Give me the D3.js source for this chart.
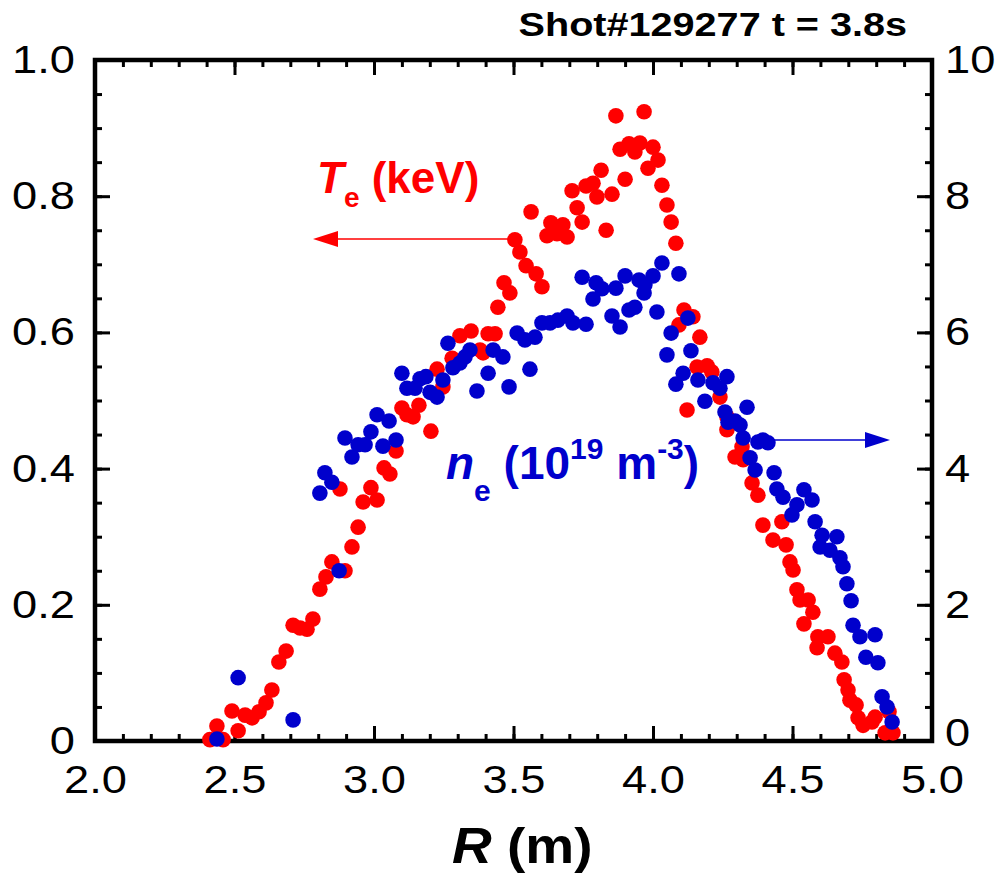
<!DOCTYPE html>
<html><head><meta charset="utf-8">
<script src="https://cdn.jsdelivr.net/npm/d3@7"></script>
<style>body{margin:0;background:#fff} svg{display:block}</style>
</head><body>
<svg id="c" width="1003" height="881"></svg>
<script>
// ---- data ----
const teR = [2.412,2.437,2.459,2.491,2.513,2.538,2.563,2.588,2.613,2.634,2.659,2.685,2.710,2.735,2.760,2.781,2.806,2.828,2.849,2.878,2.896,2.921,2.943,2.961,2.989,3.011,3.036,3.057,3.079,3.100,3.118,3.140,3.161,3.204,3.226,3.247,3.280,3.308,3.348,3.380,3.391,3.409,3.434,3.444,3.466,3.487,3.505,3.523,3.545,3.563,3.581,3.602,3.620,3.634,3.656,3.677,3.692,3.710,3.728,3.746,3.760,3.785,3.799,3.814,3.832,3.853,3.867,3.882,3.900,3.914,3.935,3.953,3.968,3.982,4.000,4.018,4.032,4.050,4.065,4.082,4.093,4.111,4.122,4.143,4.158,4.168,4.194,4.211,4.240,4.265,4.265,4.294,4.319,4.323,4.355,4.376,4.394,4.430,4.462,4.477,4.491,4.502,4.516,4.527,4.541,4.556,4.573,4.588,4.591,4.627,4.652,4.677,4.685,4.699,4.706,4.728,4.735,4.753,4.785,4.796,4.832,4.846,4.860];
const teV = [0.002,0.022,0.002,0.044,0.015,0.038,0.034,0.043,0.056,0.075,0.116,0.132,0.170,0.166,0.164,0.179,0.223,0.241,0.263,0.370,0.250,0.285,0.314,0.351,0.372,0.354,0.401,0.392,0.426,0.489,0.479,0.476,0.493,0.455,0.546,0.520,0.562,0.595,0.602,0.574,0.570,0.598,0.598,0.637,0.673,0.658,0.736,0.718,0.698,0.777,0.686,0.667,0.742,0.761,0.745,0.758,0.740,0.808,0.783,0.762,0.815,0.819,0.799,0.838,0.750,0.803,0.918,0.869,0.825,0.877,0.865,0.878,0.924,0.841,0.872,0.853,0.816,0.787,0.762,0.731,0.611,0.633,0.486,0.623,0.549,0.593,0.551,0.542,0.505,0.476,0.457,0.417,0.432,0.413,0.379,0.361,0.317,0.295,0.322,0.288,0.263,0.251,0.222,0.207,0.172,0.207,0.189,0.137,0.153,0.153,0.129,0.116,0.090,0.075,0.060,0.053,0.034,0.023,0.028,0.035,0.012,0.043,0.012];
const neR = [2.437,2.513,2.710,2.806,2.824,2.849,2.875,2.896,2.921,2.943,2.968,2.989,3.011,3.032,3.054,3.079,3.100,3.118,3.147,3.165,3.186,3.201,3.226,3.247,3.265,3.283,3.308,3.326,3.344,3.369,3.409,3.427,3.462,3.484,3.513,3.541,3.559,3.577,3.602,3.631,3.659,3.692,3.713,3.746,3.760,3.785,3.796,3.817,3.853,3.867,3.882,3.900,3.914,3.935,3.950,3.968,3.971,4.000,4.014,4.032,4.050,4.065,4.082,4.093,4.108,4.125,4.136,4.161,4.186,4.215,4.240,4.258,4.265,4.269,4.294,4.312,4.323,4.337,4.348,4.366,4.376,4.394,4.412,4.434,4.444,4.466,4.498,4.516,4.541,4.570,4.581,4.599,4.606,4.634,4.659,4.670,4.681,4.695,4.710,4.717,4.742,4.763,4.796,4.806,4.821,4.839,4.857];
const neV = [0.03,0.93,0.31,3.64,3.94,3.80,2.50,4.45,4.17,4.35,4.35,4.54,4.79,4.33,4.70,4.42,5.40,5.18,5.18,5.32,5.35,5.12,5.05,5.30,5.84,5.48,5.55,5.64,5.74,5.14,5.40,5.74,5.64,5.20,5.99,5.89,5.46,5.93,6.14,6.14,6.18,6.24,6.14,6.81,6.12,6.49,6.73,6.64,6.24,6.65,6.08,6.83,6.33,6.37,6.77,6.58,6.70,6.83,6.30,7.02,5.67,5.99,5.24,6.86,5.40,6.21,5.73,5.30,4.99,5.26,5.18,4.83,5.35,4.68,4.70,4.64,4.45,4.90,4.16,3.98,4.39,4.42,4.38,3.94,3.70,3.58,3.32,3.47,3.69,3.54,3.22,2.85,3.02,2.80,3.00,2.69,2.56,2.31,2.06,1.70,1.53,1.23,1.56,1.15,0.65,0.50,0.28];
const xTickLabels = [2.0,2.5,3.0,3.5,4.0,4.5,5.0];
const yLeftTickLabels = [0,0.2,0.4,0.6,0.8,1.0];
const yRightTickLabels = [0,2,4,6,8,10];
const titleText = "Shot#129277 t = 3.8s";

// ---- drawing ----
const svg = d3.select("#c");
const L=95, R=932, T=60, B=741;
const x = d3.scaleLinear().domain([2,5]).range([L,R]);
const yL = d3.scaleLinear().domain([0,1]).range([B,T]);
const yRt = d3.scaleLinear().domain([0,10]).range([B,T]);
const RED="#ff0000", BLUE="#0000cc";
const FONT="'Liberation Sans', Arial, Helvetica, sans-serif";
const SX = 1.16;

function style(g){
  g.select(".domain").remove();
  g.selectAll("line").attr("stroke","#000").attr("stroke-width",3);
  g.selectAll(".tick text").attr("font-family",FONT).attr("font-size",39).attr("fill","#000")
    .each(function(){
      const t=d3.select(this); const xx=+t.attr("x")||0;
      t.attr("x",0).attr("transform",`translate(${xx},0) scale(${SX},1)`);
    });
}
const fmt1 = d3.format(".1f");
const xMinor = d3.range(2,5.0001,0.1);
const yMinor = d3.range(0,1.0001,0.05);
const yMinorR = d3.range(0,10.0001,0.5);

// minor ticks
svg.append("g").attr("transform",`translate(0,${B})`).call(d3.axisBottom(x).tickValues(xMinor).tickSize(-7).tickFormat("")).call(style);
svg.append("g").attr("transform",`translate(0,${T})`).call(d3.axisTop(x).tickValues(xMinor).tickSize(-7).tickFormat("")).call(style);
svg.append("g").attr("transform",`translate(${L},0)`).call(d3.axisLeft(yL).tickValues(yMinor).tickSize(-7).tickFormat("")).call(style);
svg.append("g").attr("transform",`translate(${R},0)`).call(d3.axisRight(yRt).tickValues(yMinorR).tickSize(-7).tickFormat("")).call(style);
// major ticks + labels
svg.append("g").attr("transform",`translate(0,${B})`).call(d3.axisBottom(x).tickValues(xTickLabels).tickSize(-15).tickPadding(24).tickFormat(fmt1)).call(style);
svg.append("g").attr("transform",`translate(0,${T})`).call(d3.axisTop(x).tickValues(xTickLabels).tickSize(-15).tickFormat("")).call(style);
svg.append("g").attr("transform",`translate(${L},0)`).call(d3.axisLeft(yL).tickValues(yLeftTickLabels).tickSize(-15).tickPadding(20).tickFormat(d=>d===0?"0":fmt1(d))).call(style);
const gR = svg.append("g").attr("transform",`translate(${R},0)`).call(d3.axisRight(yRt).tickValues(yRightTickLabels).tickSize(-15).tickPadding(13).tickFormat(d3.format("d"))).call(style);
gR.selectAll(".tick text").filter(d=>d===0).attr("dy","0.12em");

// frame
svg.append("rect").attr("x",L).attr("y",T).attr("width",R-L).attr("height",B-T)
  .attr("fill","none").attr("stroke","#000").attr("stroke-width",4.5);

// points
svg.append("g").selectAll("circle").data(teR.map((r,i)=>[r,teV[i]])).join("circle")
  .attr("cx",d=>x(d[0])).attr("cy",d=>yL(d[1])).attr("r",7.8).attr("fill",RED);
svg.append("g").selectAll("circle").data(neR.map((r,i)=>[r,neV[i]])).join("circle")
  .attr("cx",d=>x(d[0])).attr("cy",d=>yRt(d[1])).attr("r",7.8).attr("fill",BLUE);

// title
svg.append("text").attr("transform","translate(907,36) scale(1.2,1)").attr("text-anchor","end")
  .attr("font-family",FONT).attr("font-weight","bold").attr("font-size",33).text(titleText);

// x axis label
const xl = svg.append("text").attr("transform","translate(452,863) scale(1.1,1)").attr("font-family",FONT)
  .attr("font-weight","bold").attr("font-size",50);
xl.append("tspan").attr("font-style","italic").text("R");
xl.append("tspan").text(" (m)");

// Te label
const tl = svg.append("text").attr("x",317).attr("y",193).attr("font-family",FONT)
  .attr("font-weight","bold").attr("font-size",44).attr("fill",RED);
tl.append("tspan").attr("font-style","italic").text("T");
tl.append("tspan").attr("font-size",28).attr("dy",14).text("e");
tl.append("tspan").attr("dy",-14).text(" (keV)");

// ne label
const nl = svg.append("text").attr("x",446).attr("y",479).attr("font-family",FONT)
  .attr("font-weight","bold").attr("font-size",46).attr("fill",BLUE);
nl.append("tspan").attr("font-style","italic").text("n");
nl.append("tspan").attr("font-size",30).attr("dy",22).text("e");
nl.append("tspan").attr("dy",-22).text(" (10");
nl.append("tspan").attr("font-size",30).attr("dy",-20).text("19");
nl.append("tspan").attr("dy",20).text(" m");
nl.append("tspan").attr("font-size",30).attr("dy",-20).text("-3");
nl.append("tspan").attr("dy",20).text(")");

// arrows
function arrow(x1,x2,y,color){
  const dir = Math.sign(x2-x1), hl=25, hw=8;
  svg.append("line").attr("x1",x1).attr("x2",x2-dir*hl).attr("y1",y).attr("y2",y)
    .attr("stroke",color).attr("stroke-width",1.6);
  svg.append("path").attr("d",`M${x2},${y}L${x2-dir*hl},${y-hw}L${x2-dir*hl},${y+hw}Z`).attr("fill",color);
}
arrow(512,313,239,RED);
arrow(770,890,440,BLUE);
</script>
</body></html>
